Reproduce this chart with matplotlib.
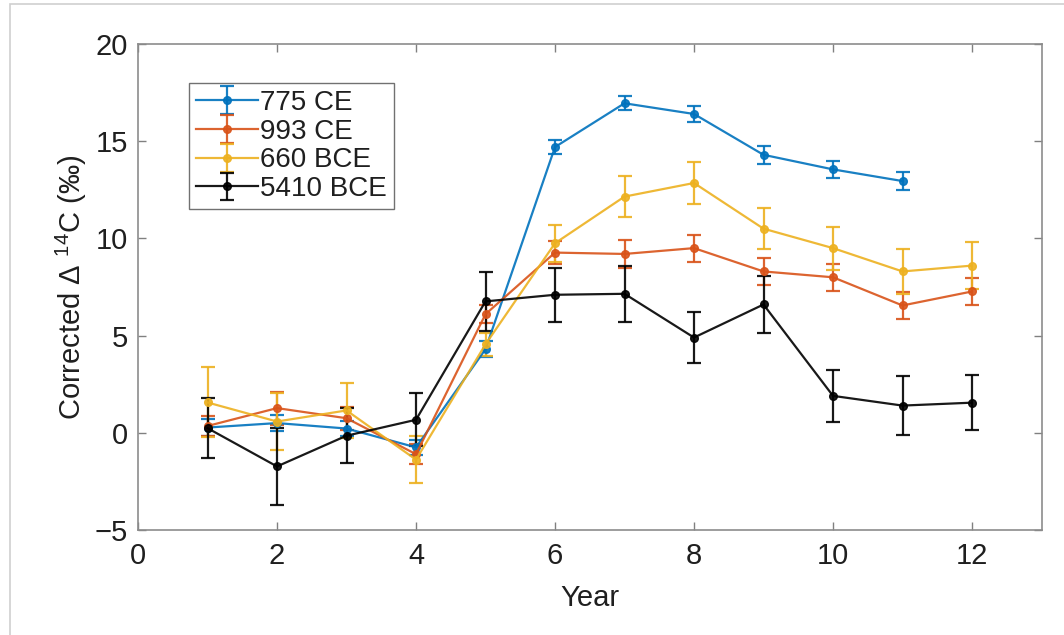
import matplotlib
matplotlib.use("Agg")
import matplotlib.pyplot as plt
from matplotlib.patches import Rectangle

plt.rcParams['font.family'] = ['Liberation Sans', 'DejaVu Sans']
plt.rcParams['mathtext.fontset'] = 'custom'
plt.rcParams['mathtext.rm'] = 'Liberation Sans'
plt.rcParams['mathtext.it'] = 'Liberation Sans'

# Event series: year index, corrected Delta-14C and 1-sigma errors
years_775 = [1, 2, 3, 4, 5, 6, 7, 8, 9, 10, 11]
d14c_775 = [0.27, 0.5, 0.22, -0.75, 4.3, 14.7, 16.95, 16.4, 14.3, 13.55, 12.95]
err_775 = [0.43, 0.4, 0.4, 0.4, 0.4, 0.35, 0.35, 0.4, 0.45, 0.45, 0.45]

years_993 = [1, 2, 3, 4, 5, 6, 7, 8, 9, 10, 11, 12]
d14c_993 = [0.35, 1.27, 0.75, -1.1, 6.1, 9.27, 9.2, 9.5, 8.3, 8.0, 6.55, 7.27]
err_993 = [0.5, 0.85, 0.6, 0.5, 0.45, 0.6, 0.7, 0.7, 0.7, 0.7, 0.7, 0.7]

years_660 = [1, 2, 3, 4, 5, 6, 7, 8, 9, 10, 11, 12]
d14c_660 = [1.56, 0.58, 1.15, -1.38, 4.55, 9.75, 12.15, 12.85, 10.5, 9.5, 8.3, 8.6]
err_660 = [1.8, 1.45, 1.4, 1.2, 0.6, 0.95, 1.05, 1.1, 1.05, 1.1, 1.15, 1.2]

years_5410 = [1, 2, 3, 4, 5, 6, 7, 8, 9, 10, 11, 12]
d14c_5410 = [0.24, -1.73, -0.15, 0.67, 6.76, 7.1, 7.15, 4.9, 6.6, 1.9, 1.4, 1.55]
err_5410 = [1.55, 2.0, 1.4, 1.37, 1.5, 1.4, 1.45, 1.3, 1.45, 1.35, 1.5, 1.4]

labels = ['775 CE', '993 CE', '660 BCE', '5410 BCE']
colors = ['#0072BD', '#D95319', '#EDB120', '#000000']

xticks = [0, 2, 4, 6, 8, 10, 12]
yticks = [-5, 0, 5, 10, 15, 20]

TEXT = '#1f1f1f'
FS = 21

fig = plt.figure(figsize=(10.64, 6.35), dpi=100)
ax = fig.add_axes([138 / 1064, 1 - 530 / 635, (1041.5 - 138) / 1064, (530 - 44) / 635])

series = [
    (years_775, d14c_775, err_775),
    (years_993, d14c_993, err_993),
    (years_660, d14c_660, err_660),
    (years_5410, d14c_5410, err_5410),
]
for (x, y, e), lab, c in zip(series, labels, colors):
    ax.errorbar(x, y, yerr=e, color=c, marker='o', markersize=5.5,
                linewidth=1.6, elinewidth=1.6, capsize=5, capthick=1.6,
                label=lab, alpha=0.9)

ax.set_xlim(0, 13)
ax.set_ylim(-5, 20)
ax.set_xticks(xticks)
ax.set_yticks(yticks)
ax.set_yticklabels(['\u22125' if v < 0 else str(v) for v in yticks])
ax.tick_params(direction='in', top=True, right=True, length=6, width=1,
               color='#808080', labelsize=FS, labelcolor=TEXT)
ax.tick_params(axis='y', pad=7)
ax.tick_params(axis='x', pad=9)
for s in ax.spines.values():
    s.set_color('#8c8c8c')
    s.set_linewidth(1.2)

ax.set_xlabel('Year', fontsize=FS, color=TEXT, labelpad=10)
ax.set_ylabel(r'Corrected $\Delta$ $^{14}$C (‰)', fontsize=FS, color=TEXT, labelpad=4)

leg = ax.legend(loc='upper left', bbox_to_anchor=(0.057, 0.92), fontsize=20,
                frameon=True, fancybox=False, borderpad=0.25, handlelength=2.2,
                handletextpad=0.1, labelspacing=0.1, borderaxespad=0)
leg.get_frame().set_edgecolor('#4d4d4d')
leg.get_frame().set_linewidth(1.0)
for t in leg.get_texts():
    t.set_color(TEXT)

# thin light frame around the whole figure
fig.patches.append(Rectangle((10 / 1064, -0.1), 1.2, 1.1 - 4 / 635,
                             transform=fig.transFigure, fill=False,
                             edgecolor='#cfcfcf', linewidth=1.2))

fig.savefig('out.png', dpi=100)
